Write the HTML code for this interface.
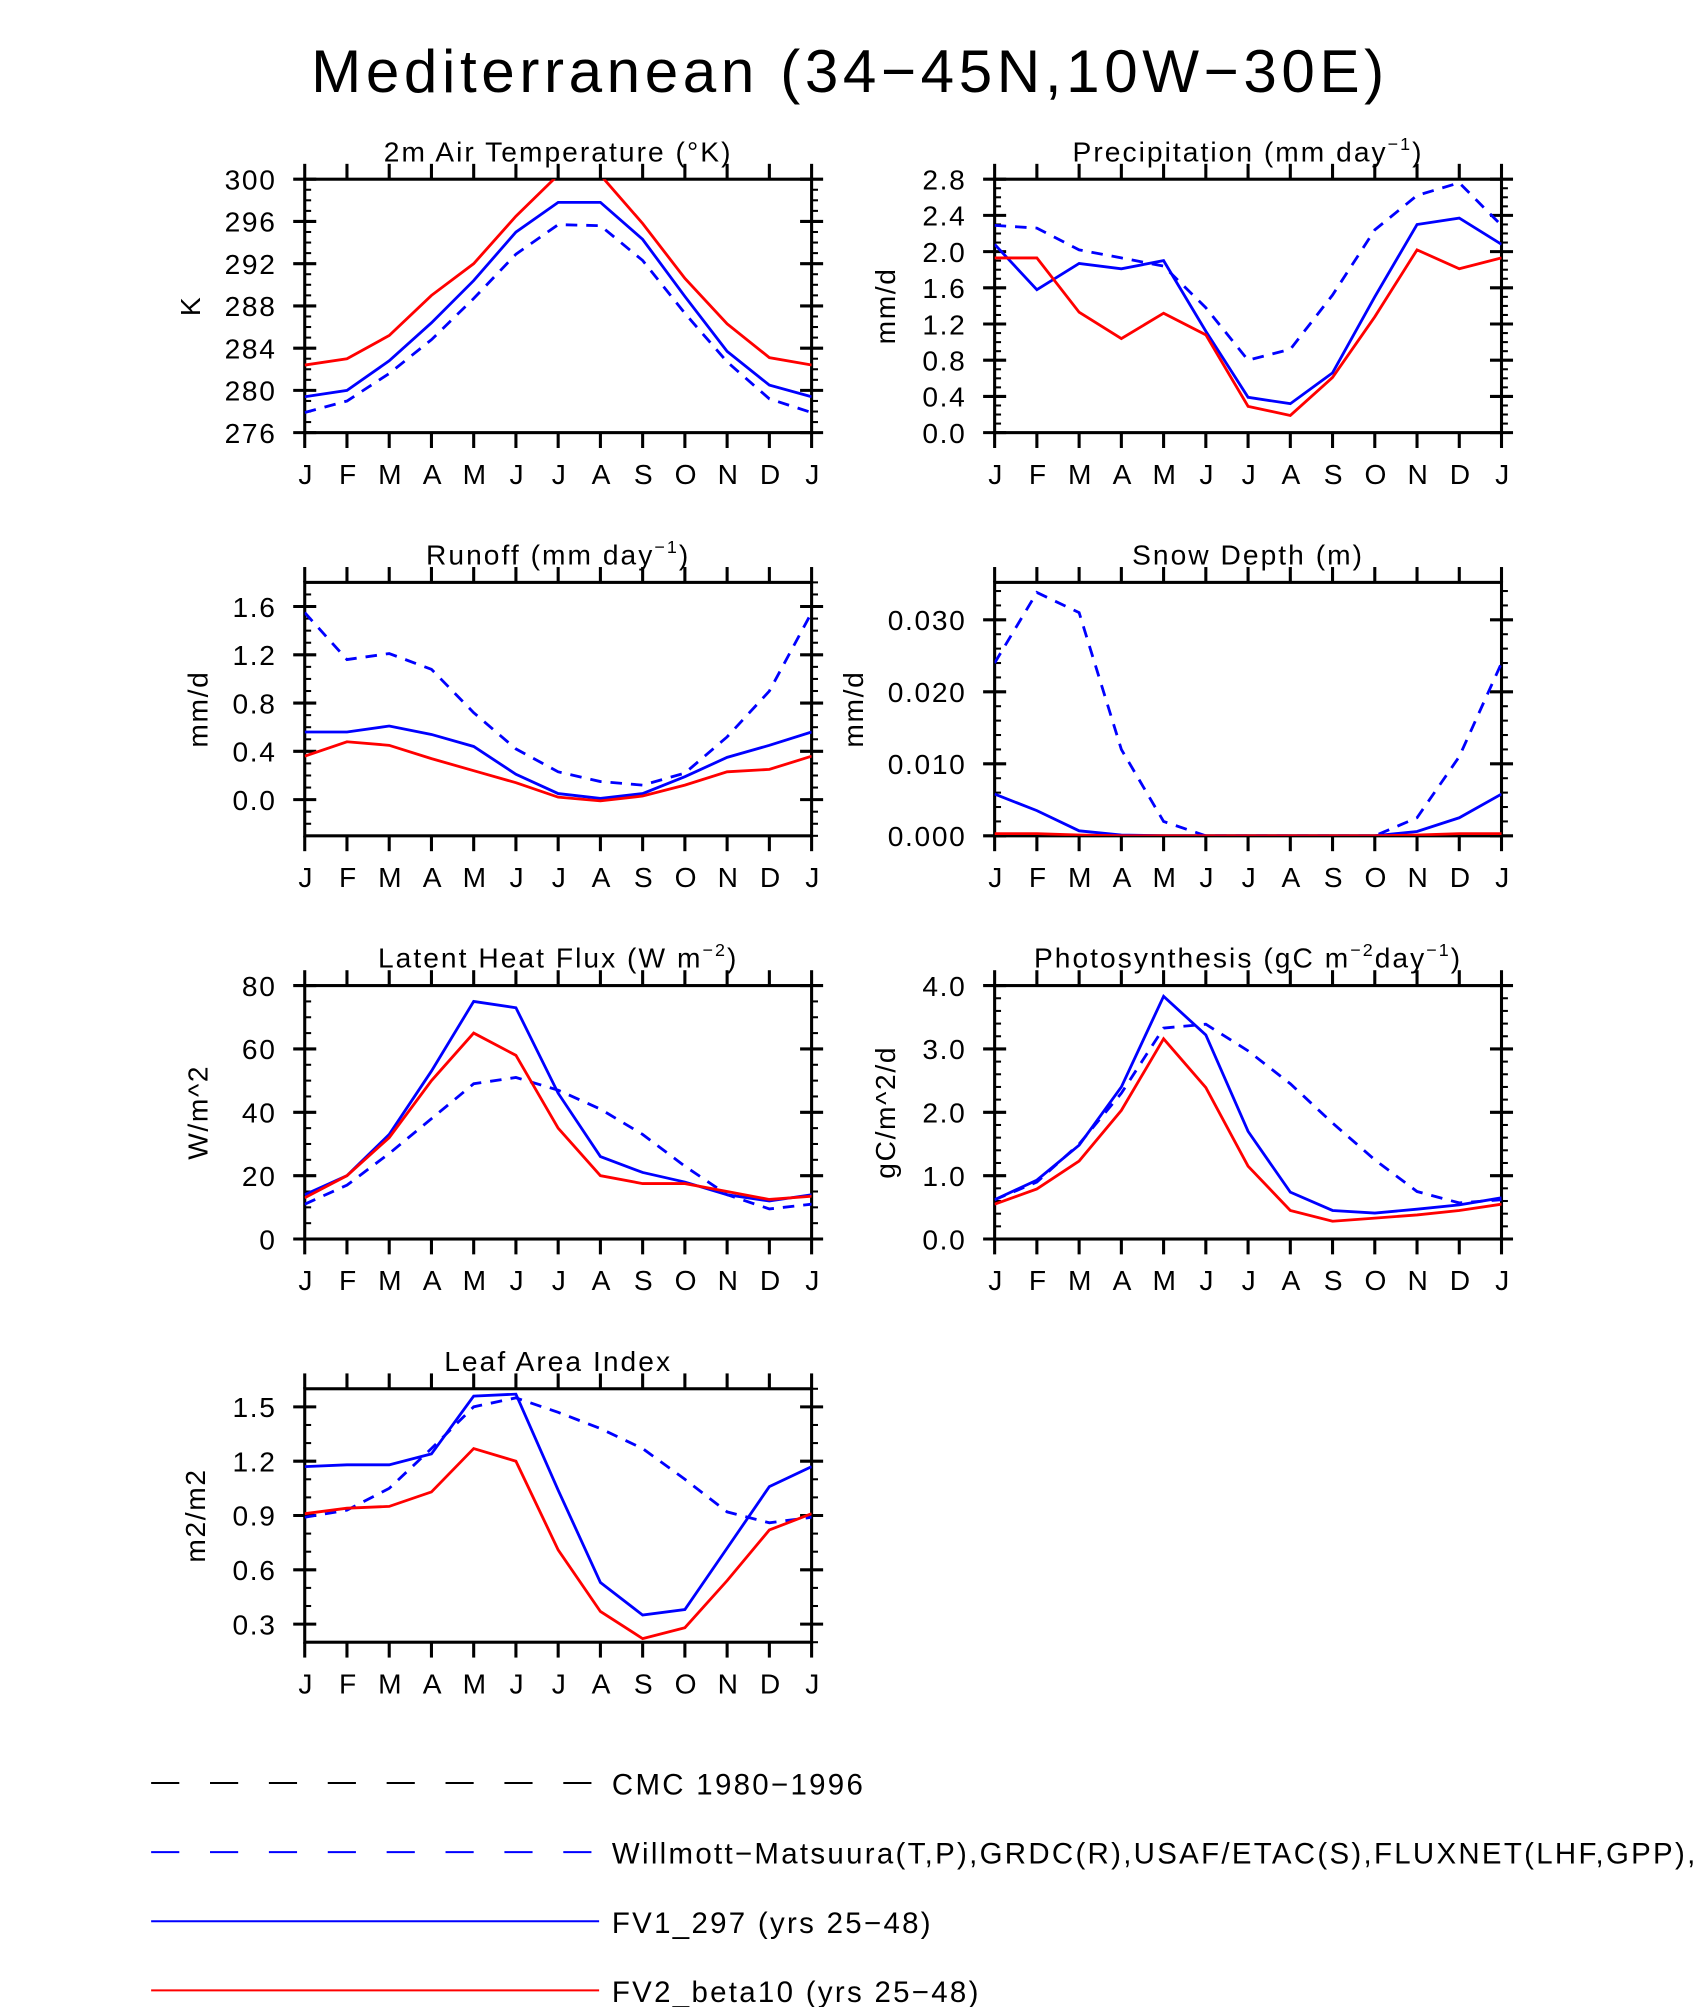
<!DOCTYPE html>
<html><head><meta charset="utf-8"><style>
html,body{margin:0;padding:0;background:#fff;}
svg{display:block;font-family:"Liberation Sans",sans-serif;}
svg text{letter-spacing:1.3px;}
</style></head><body>
<svg id="fig" width="1700" height="2007" viewBox="0 0 1328 1568" xmlns="http://www.w3.org/2000/svg">
<text x="664" y="72" font-size="47" text-anchor="middle" fill="#000" style="letter-spacing:3.6px">Mediterranean (34−45N,10W−30E)</text>
<g id="panels"></g>
<g id="legend"></g>
</svg>
<script>
const months = ["J","F","M","A","M","J","J","A","S","O","N","D","J"];
// Temperature
const tObs = [277.9,279.0,281.6,284.8,288.7,292.9,295.7,295.6,292.3,287.3,282.7,279.2,277.9];
const tFv1 = [279.4,280.0,282.8,286.4,290.4,295.0,297.8,297.8,294.3,288.9,283.7,280.5,279.4];
const tFv2 = [282.4,283.0,285.2,289.0,292.0,296.5,300.4,300.4,295.8,290.6,286.3,283.1,282.4];
const tTicks = ["276","280","284","288","292","296","300"];
// Precipitation
const pObs = [2.29,2.26,2.02,1.93,1.84,1.38,0.80,0.92,1.52,2.24,2.62,2.76,2.29];
const pFv1 = [2.08,1.58,1.87,1.81,1.90,1.12,0.39,0.32,0.66,1.50,2.30,2.37,2.08];
const pFv2 = [1.93,1.93,1.33,1.04,1.32,1.08,0.29,0.19,0.61,1.28,2.02,1.81,1.93];
const pTicks = ["0.0","0.4","0.8","1.2","1.6","2.0","2.4","2.8"];
// Runoff
const rObs = [1.55,1.16,1.21,1.08,0.72,0.42,0.23,0.15,0.12,0.22,0.52,0.90,1.55];
const rFv1 = [0.56,0.56,0.61,0.54,0.44,0.21,0.05,0.01,0.05,0.19,0.35,0.45,0.56];
const rFv2 = [0.36,0.48,0.45,0.34,0.24,0.14,0.02,-0.01,0.03,0.12,0.23,0.25,0.36];
const rTicks = ["0.0","0.4","0.8","1.2","1.6"];
// Snow depth
const sObs = [0.024,0.0338,0.031,0.012,0.002,0.0,0.0,0.0,0.0,0.0,0.0025,0.011,0.024];
const sFv1 = [0.0058,0.0035,0.0007,0.0001,0,0,0,0,0,0,0.0006,0.0025,0.0058];
const sFv2 = [0.0003,0.0003,0.0001,0,0,0,0,0,0,0,0.0001,0.0003,0.0003];
const sTicks = ["0.000","0.010","0.020","0.030"];
// Latent heat flux
const lObs = [11,17,27,38,49,51,47,41,33,23,14,9.5,11];
const lFv1 = [14,20,33,53,75,73,46,26,21,18,14,12,14];
const lFv2 = [13,20,32,50,65,58,35,20,17.5,17.5,15,12.5,13.5];
const lTicks = ["0","20","40","60","80"];
// GPP
const gObs = [0.62,0.9,1.5,2.3,3.33,3.39,2.97,2.45,1.83,1.25,0.75,0.57,0.62];
const gFv1 = [0.62,0.93,1.48,2.4,3.83,3.22,1.7,0.74,0.45,0.41,0.47,0.54,0.65];
const gFv2 = [0.55,0.79,1.23,2.03,3.16,2.39,1.15,0.45,0.28,0.33,0.38,0.45,0.55];
const gTicks = ["0.0","1.0","2.0","3.0","4.0"];
// LAI
const aObs = [0.89,0.93,1.05,1.27,1.5,1.55,1.47,1.38,1.27,1.1,0.92,0.86,0.89];
const aFv1 = [1.17,1.18,1.18,1.24,1.56,1.57,1.04,0.53,0.35,0.38,0.72,1.06,1.17];
const aFv2 = [0.91,0.94,0.95,1.03,1.27,1.2,0.71,0.37,0.22,0.28,0.54,0.82,0.91];
const aTicks = ["0.3","0.6","0.9","1.2","1.5"];

const NS="http://www.w3.org/2000/svg";
function mk(tag,attrs,parent){const e=document.createElementNS(NS,tag);for(const k in attrs)e.setAttribute(k,attrs[k]);if(parent)parent.appendChild(e);return e;}

const panels=[
 {key:"temperature",title:"2m Air Temperature (°K)",ylab:"K",yoff:82,col:0,row:0,ymin:276,ymax:300,ticks:tTicks,minor:1,series:[tObs,tFv1,tFv2]},
 {key:"precipitation",title:"Precipitation (mm day",sup:"−1",tail:")",ylab:"mm/d",yoff:78,col:1,row:0,ymin:0,ymax:2.8,ticks:pTicks,minor:0.1,series:[pObs,pFv1,pFv2]},
 {key:"runoff",title:"Runoff (mm day",sup:"−1",tail:")",ylab:"mm/d",yoff:76,col:0,row:1,ymin:-0.3,ymax:1.8,ticks:rTicks,minor:0.1,series:[rObs,rFv1,rFv2]},
 {key:"snow-depth",title:"Snow Depth (m)",ylab:"mm/d",yoff:103,col:1,row:1,ymin:0,ymax:0.0352,ticks:sTicks,minor:0.002,series:[sObs,sFv1,sFv2]},
 {key:"latent-heat",title:"Latent Heat Flux (W m",sup:"−2",tail:")",ylab:"W/m^2",yoff:76,col:0,row:2,ymin:0,ymax:80,ticks:lTicks,minor:5,series:[lObs,lFv1,lFv2]},
 {key:"photosynthesis",title:"Photosynthesis (gC m",sup:"−2",tail:"day",sup2:"−1",tail2:")",ylab:"gC/m^2/d",yoff:78,col:1,row:2,ymin:0,ymax:4,ticks:gTicks,minor:0.2,series:[gObs,gFv1,gFv2]},
 {key:"leaf-area",title:"Leaf Area Index",ylab:"m2/m2",yoff:78,col:0,row:3,ymin:0.2,ymax:1.6,ticks:aTicks,minor:0.1,series:[aObs,aFv1,aFv2]}
];
const colX=[238,777], rowY=[140,455,770,1085], W=396, H=198;
const root=document.getElementById("panels");
const styles=[{c:"#0000ff",d:"9 7"},{c:"#0000ff",d:""},{c:"#ff0000",d:""}];
const snames=["obs-line","fv1-line","fv2-line"];

panels.forEach(p=>{
 const x0=colX[p.col], y0=rowY[p.row];
 const g=mk("g",{},root);
 
 
 const xs=i=>x0+i*W/12;
 const ys=v=>y0+H-(v-p.ymin)/(p.ymax-p.ymin)*H;
 const cid="clip-"+p.key;
 const cp=mk("clipPath",{id:cid},g); mk("rect",{x:x0,y:y0,width:W,height:H},cp);
 const t=mk("text",{x:x0+W/2,y:y0-14,"font-size":"22","text-anchor":"middle",style:"letter-spacing:1.6px"},g);
 
 
 t.appendChild(document.createTextNode(p.title));
 if(p.sup){const s=mk("tspan",{dy:"-9","font-size":"14"},t);s.textContent=p.sup;
   const s2=mk("tspan",{dy:"9"},t);s2.textContent=p.tail;}
 if(p.sup2){const s=mk("tspan",{dy:"-9","font-size":"14"},t);s.textContent=p.sup2;
   const s2=mk("tspan",{dy:"9"},t);s2.textContent=p.tail2;}
 const yl=mk("text",{transform:`translate(${x0-p.yoff},${y0+H/2}) rotate(-90)`,"font-size":"22","text-anchor":"middle"},g);
 
 
 yl.textContent=p.ylab;
 const axg=mk("g",{stroke:"#000","stroke-width":"1.6"},g);
 for(let v=p.ymin;v<=p.ymax+1e-9;v+=p.minor){
  const y=ys(v);
  mk("line",{x1:x0,x2:x0+5,y1:y,y2:y},axg);
  mk("line",{x1:x0+W,x2:x0+W+5,y1:y,y2:y},axg);
 }
 p.ticks.forEach(tl=>{
  const y=ys(parseFloat(tl));
  mk("line",{x1:x0-9,x2:x0+9,y1:y,y2:y,"stroke-width":"2.4"},axg);
  mk("line",{x1:x0+W-9,x2:x0+W+9,y1:y,y2:y,"stroke-width":"2.4"},axg);
  const lt=mk("text",{x:x0-22,y:y+8,"font-size":"22","text-anchor":"end",stroke:"none",fill:"#000"},g);
  
  
  lt.textContent=tl;
 });
 months.forEach((m,i)=>{
  const x=xs(i);
  mk("line",{x1:x,x2:x,y1:y0-12,y2:y0,"stroke-width":"2.4"},axg);
  mk("line",{x1:x,x2:x,y1:y0+H,y2:y0+H+12,"stroke-width":"2.4"},axg);
  const mt=mk("text",{x:x+0.5,y:y0+H+40,"font-size":"22","text-anchor":"middle",style:"letter-spacing:0"},g);
  
  
  mt.textContent=m;
 });
 mk("rect",{x:x0,y:y0,width:W,height:H,fill:"none",stroke:"#000","stroke-width":"2.4"},g);
 const sg=mk("g",{"clip-path":`url(#${cid})`},g);
 p.series.forEach((arr,si)=>{
  const pts=arr.map((v,i)=>xs(i).toFixed(1)+","+ys(v).toFixed(1)).join(" ");
  const pl=mk("polyline",{points:pts,fill:"none",stroke:styles[si].c,"stroke-width":"2.2","stroke-dasharray":styles[si].d||"none"},sg);
  
  
 });
});

const lg=document.getElementById("legend");
const legendItems=[
 {t:"CMC 1980−1996",c:"#000",d:"22 24"},
 {t:"Willmott−Matsuura(T,P),GRDC(R),USAF/ETAC(S),FLUXNET(LHF,GPP),MODIS(LAI)",c:"#0000ff",d:"22 24"},
 {t:"FV1_297 (yrs 25−48)",c:"#0000ff",d:""},
 {t:"FV2_beta10 (yrs 25−48)",c:"#ff0000",d:""}
];
legendItems.forEach((it,i)=>{
 const y=1393+i*54;
 const e=mk("g",{},lg);
 
 
 mk("line",{x1:118,x2:468,y1:y,y2:y,stroke:it.c,"stroke-width":"1.6","stroke-dasharray":it.d||"none"},e);
 const tx=mk("text",{x:478,y:y+9,"font-size":"23",style:"letter-spacing:1.8px"},e);
 tx.textContent=it.t;
});
</script>
</body></html>
